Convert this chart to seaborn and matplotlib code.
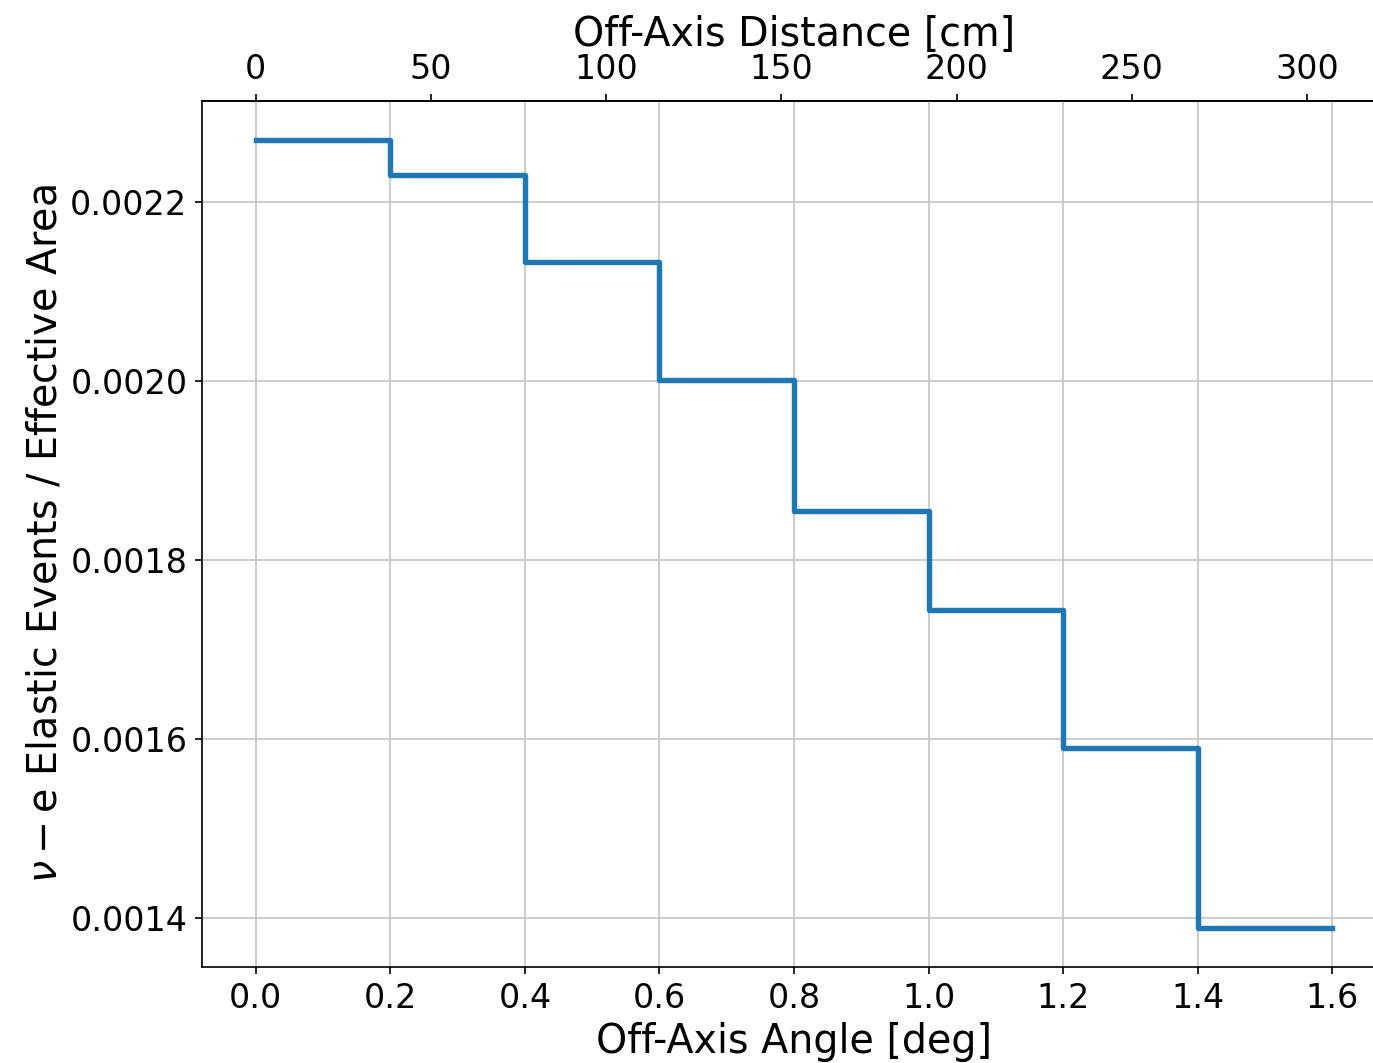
import numpy as np
import pandas as pd
import matplotlib
matplotlib.use("Agg")
import matplotlib.pyplot as plt
import seaborn as sns

# ==============================
# Data
# ==============================
angle_edges = [0.0, 0.2, 0.4, 0.6, 0.8, 1.0, 1.2, 1.4, 1.6]
events_per_area = [0.002269, 0.002230, 0.002133, 0.002001,
                   0.001855, 0.001744, 0.001590, 0.001389]

# cm per degree of off-axis angle
cm_per_deg = 192.0

# step plot needs the last level repeated at the final edge
df = pd.DataFrame({
    "angle": angle_edges,
    "ratio": events_per_area + [events_per_area[-1]],
})

# ==============================
# Figure
# ==============================
fig = plt.figure(figsize=(1373 / 150, 1063 / 150), dpi=150)
ax = fig.add_axes([0.1471, 0.0903, 0.8624, 0.8147])

sns.lineplot(
    data=df,
    x="angle",
    y="ratio",
    drawstyle="steps-post",
    color="#1f77b4",
    linewidth=2.6,
    ax=ax,
)

ax.set_xlim(-0.08, 1.68)
ax.set_ylim(0.0013450, 0.0023130)
ax.set_xticks(np.arange(0, 1.61, 0.2))
ax.set_yticks([0.0014, 0.0016, 0.0018, 0.0020, 0.0022])
ax.yaxis.set_major_formatter(matplotlib.ticker.FormatStrFormatter("%.4f"))
ax.grid(True, color="#c4c4c4", linewidth=0.8)
ax.tick_params(labelsize=16)

ax.set_xlabel("Off-Axis Angle [deg]", fontsize=19, labelpad=3.5)
ax.set_ylabel(r"$\nu-\mathrm{e}$ Elastic Events / Effective Area", fontsize=19, labelpad=2)

# top axis: distance
top = ax.secondary_xaxis(
    "top",
    functions=(lambda a: a * cm_per_deg, lambda d: d / cm_per_deg),
)
top.set_xticks([0, 50, 100, 150, 200, 250, 300])
top.tick_params(labelsize=16)
top.set_xlabel("Off-Axis Distance [cm]", fontsize=19, labelpad=3.5)

plt.savefig("out.png", dpi=150)
plt.close()
